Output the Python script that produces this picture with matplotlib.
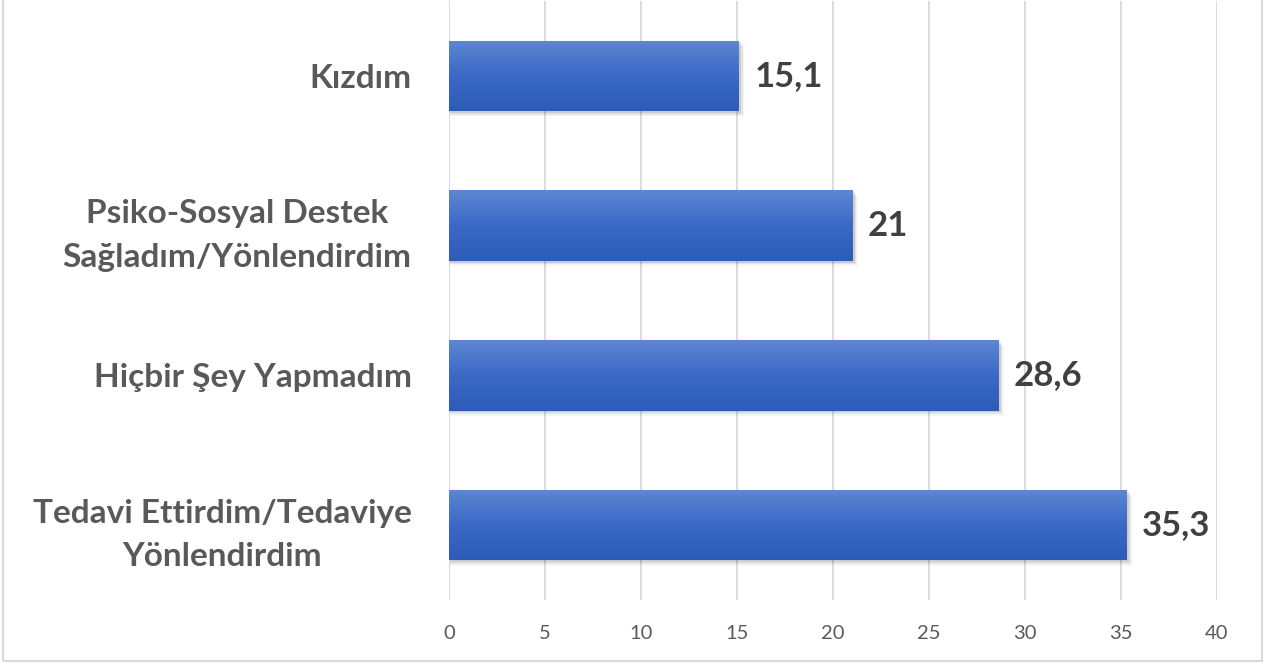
import matplotlib

matplotlib.use("Agg")
import matplotlib.pyplot as plt
import numpy as np
from matplotlib.colors import LinearSegmentedColormap
from matplotlib.patches import Rectangle

plt.rcParams["font.family"] = ["Lato", "DejaVu Sans"]

# Data, bottom to top
categories = [
    "Tedavi Ettirdim/Tedaviye\nYönlendirdim",
    "Hiçbir Şey Yapmadım",
    "Psiko-Sosyal Destek\nSağladım/Yönlendirdim",
    "Kızdım",
]
values = [35.3, 28.6, 21, 15.1]
value_labels = ["35,3", "28,6", "21", "15,1"]
x_ticks = [0, 5, 10, 15, 20, 25, 30, 35, 40]

BAR_HEIGHT = 0.47
grad = LinearSegmentedColormap.from_list("bar", ["#2C5BB8", "#3B69C6", "#5D86D2"])

fig = plt.figure(figsize=(12.66, 6.64), dpi=100)
ax = fig.add_axes([449 / 1266, 64 / 664, 768 / 1266, 599 / 664])

for i, v in enumerate(values):
    # soft shadow
    for k, a in enumerate([0.10, 0.07, 0.04]):
        off = 0.012 * (k + 1)
        ax.add_patch(Rectangle((0.05, i - BAR_HEIGHT / 2 - off), v + 0.08 * (k + 1), BAR_HEIGHT,
                               facecolor="black", alpha=a, edgecolor="none", zorder=2))
    bar = Rectangle((0, i - BAR_HEIGHT / 2), v, BAR_HEIGHT, facecolor="none",
                    edgecolor="none", zorder=3)
    ax.add_patch(bar)
    img = ax.imshow(np.linspace(0, 1, 100).reshape(-1, 1), cmap=grad, aspect="auto",
                    origin="lower", extent=(0, v, i - BAR_HEIGHT / 2, i + BAR_HEIGHT / 2),
                    zorder=3)
    img.set_clip_path(bar)
    ax.text(v + 0.8, i, value_labels[i], va="center", ha="left", fontsize=25,
            fontweight="bold", color="#404040")

ax.set_xlim(0, 40)
ax.set_ylim(-0.5, 3.5)
ax.set_xticks(x_ticks)
ax.set_xticklabels([str(t) for t in x_ticks], fontsize=14.5, color="#595959")
ax.set_yticks(range(len(categories)))
ax.set_yticklabels(categories, fontsize=24, fontweight="bold", color="#595959",
                   ha="right", multialignment="center", linespacing=1.6)
ax.tick_params(axis="y", length=0, pad=27)
ax.tick_params(axis="x", length=0, pad=18)
ax.grid(axis="x", color="#D9D9D9", linewidth=1.3, zorder=0)
ax.set_axisbelow(True)
for s in ax.spines.values():
    s.set_visible(False)

# outer chart border
fig.add_artist(Rectangle((3 / 1266, 3 / 664), 1259 / 1266, 700 / 664,
                         transform=fig.transFigure, facecolor="none",
                         edgecolor="#D9D9D9", linewidth=1.5))

fig.savefig("out.png", dpi=100)
